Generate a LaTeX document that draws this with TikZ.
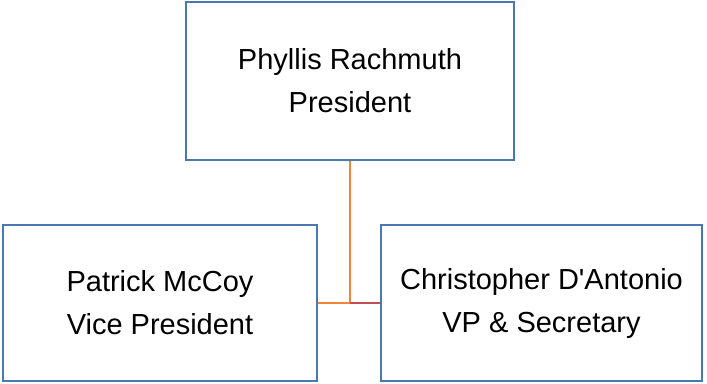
\documentclass[tikz,border=0pt]{standalone}
\usepackage{fontspec}
\setmainfont{Liberation Sans}
\definecolor{boxblue}{HTML}{4A78B0}
\definecolor{lineorange}{HTML}{EE8538}
\definecolor{linered}{HTML}{C0504D}
\begin{document}
\begin{tikzpicture}[x=1pt,y=-1pt,
  person/.style={draw=boxblue,line width=2.4pt,fill=white,inner sep=0pt,align=center,
    font=\fontsize{29}{43}\selectfont},
  link/.style={line width=2.8pt}]
\useasboundingbox (0,0) rectangle (707,383);
\node[person,minimum width=328pt,minimum height=158pt] (pres) at (350,81) {Phyllis Rachmuth\\President};
\node[person,minimum width=314pt,minimum height=156pt] (vp) at (160,303) {Patrick McCoy\\Vice President};
\node[person,minimum width=321pt,minimum height=156pt] (sec) at (541.5,303) {Christopher D\textquotesingle Antonio\\VP \& Secretary};
\coordinate (j) at (pres.south |- vp.east);
\draw[link,lineorange] (pres.south) -- (j);
\draw[link,lineorange] (j) -- (vp.east);
\draw[link,linered] (j) -- (sec.west);
\end{tikzpicture}
\end{document}
